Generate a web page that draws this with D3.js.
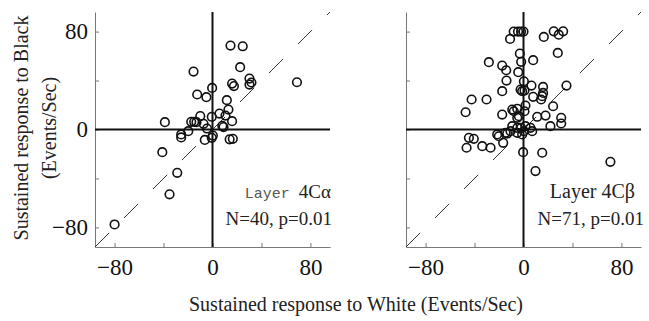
<!DOCTYPE html>
<html>
<head>
<meta charset="utf-8">
<script src="https://cdn.jsdelivr.net/npm/d3@7"></script>
<style>
  body { margin: 0; background: #fff; }
  svg text { font-family: "Liberation Serif", "Times New Roman", serif; }
</style>
</head>
<body>
<script>
// Layer 4C-alpha: sustained response to white (x) vs black (y), events/sec
var alphaWhite = [14.7, 24.7, 22.6, -15.5, -0.3, 16, 17.5, 30.2, 30.2, 31.8,
  69, -12.5, -5, 11.7, 13, 5.7, 10.6, -10, -17.4, -15,
  -13.1, -38.9, -7.3, -0.6, 16, 8, 9, -4.5, -25.6, -25.6,
  -19.8, -6.3, -0.6, 0.3, 14, 16.6, -41, -28.8, -35.1, -80];
var alphaBlack = [68.6, 68, 50.9, 47.3, 34, 37.5, 35.5, 41.6, 36.7, 38.4,
  38.6, 28.6, 26.4, 24, 16.3, 13, 11.4, 11, 6.3, 6.3,
  6, 6, 4.6, 10.4, 6.8, 3, 2, 0.8, -4, -6.5,
  -1.4, -8.5, -6.8, -5, -8, -7.6, -18.5, -35.4, -53, -77.6];

// Layer 4C-beta
var betaWhite = [-8, -4.5, -2, 0, -11, 16.6, 24.7, 28.8, 32.4, 28,
  7.9, -3, -1.9, -28.3, -17.4, -14.1, -4.3, -13.9, 0.3, -17.4,
  -2.4, -1.1, 0.8, 6.5, 16, 35.1, 16, 15.3, 14.4, 7.9,
  -42.4, -30.2, -47.3, -17.4, -9.2, -7.9, -5.1, 0.8, 1.6, 24.2,
  -5.1, -3.8, 11.2, 18, 30.8, 30.8, 22, -9.2, -5.1, 1.6,
  -1.9, 5.7, 7.1, 0.3, -1.1, -5.1, -10.6, -14.7, -21.5, -20.2,
  -13.3, -16.6, -26.9, -33.7, -44.6, -40.6, -46.5, -0.3, 15.3, 9.8, 71];
var betaBlack = [80, 80, 80, 80, 74, 75.6, 80.2, 77.5, 80.2, 62.6,
  56.6, 62, 55.3, 55, 52.2, 48.4, 46.8, 40, 39.4, 31.3,
  32.6, 31.3, 31.8, 35.9, 34.8, 35.9, 29.9, 27.2, 24.5, 26.7,
  24.5, 24.5, 14.1, 12.2, 16.3, 14.9, 16.9, 14.9, 19.6, 19,
  9.5, 10.9, 10.4, 11.4, 9.5, 4.9, 2.7, 2.7, 1.4, 2.7,
  1.4, 1.4, -1.4, -1.4, -4.1, -2.7, -1.4, -2.7, -4, -5.5,
  -3.3, -10.9, -14.9, -13.6, -6.8, -7.6, -14.9, -18.5, -19, -34, -26.4];

var axisDomain = [-96, 96];
var tickVals = [-80, -40, 0, 40, 80];
var labelVals = [-80, 0, 80];

var panels = [
  { name: "Layer", layer: "4C\u03b1", stats: "N=40, p=0.01", xs: alphaWhite, ys: alphaBlack, left: 95, yLabels: true, mono: true },
  { name: "Layer", layer: "4C\u03b2", stats: "N=71, p=0.01", xs: betaWhite, ys: betaBlack, left: 406, yLabels: false, mono: false }
];

var plotTop = 12, plotBottom = 247, side = 235;

var svg = d3.select("body").append("svg")
  .attr("width", 649)
  .attr("height", 321);

var fmt = d3.format("");

panels.forEach(function(p) {
  var x = d3.scaleLinear().domain(axisDomain).range([p.left, p.left + side]);
  var y = d3.scaleLinear().domain(axisDomain).range([plotBottom, plotTop]);
  var g = svg.append("g");

  var xAxis = g.append("g")
    .attr("transform", `translate(0,${plotBottom})`)
    .call(d3.axisBottom(x).tickValues(tickVals).tickSizeInner(-4).tickSizeOuter(0)
      .tickPadding(12)
      .tickFormat(d => labelVals.includes(d) ? fmt(d) : ""));
  var yAxis = g.append("g")
    .attr("transform", `translate(${p.left},0)`)
    .call(d3.axisLeft(y).tickValues(tickVals).tickSizeInner(-4).tickSizeOuter(0)
      .tickPadding(7)
      .tickFormat(d => p.yLabels && labelVals.includes(d) ? fmt(d) : ""));

  [xAxis, yAxis].forEach(function(a) {
    a.attr("font-family", null).attr("font-size", 23);
    a.select(".domain").attr("stroke", "#777").attr("stroke-width", 1);
    a.selectAll(".tick line").attr("stroke", "#777");
    a.selectAll(".tick text").attr("fill", "#111");
  });

  // identity line
  g.append("line")
    .attr("x1", x(axisDomain[0])).attr("y1", y(axisDomain[0]))
    .attr("x2", x(axisDomain[1])).attr("y2", y(axisDomain[1]))
    .attr("stroke", "#333")
    .attr("stroke-width", 1)
    .attr("stroke-dasharray", "20,21");

  // zero lines
  g.append("line")
    .attr("x1", x(0)).attr("x2", x(0))
    .attr("y1", y(axisDomain[1])).attr("y2", y(axisDomain[0]))
    .attr("stroke", "#111").attr("stroke-width", 2);
  g.append("line")
    .attr("x1", x(axisDomain[0])).attr("x2", x(axisDomain[1]))
    .attr("y1", y(0)).attr("y2", y(0))
    .attr("stroke", "#111").attr("stroke-width", 2);

  g.selectAll("circle").data(p.xs)
    .enter().append("circle")
    .attr("cx", d => x(d))
    .attr("cy", (d, i) => y(p.ys[i]))
    .attr("r", 4.3)
    .attr("fill", "none")
    .attr("stroke", "#111")
    .attr("stroke-width", 1.6);

  var lt = g.append("text")
    .attr("x", p.left + side + (p.mono ? 1 : -6))
    .attr("y", 198)
    .attr("text-anchor", "end")
    .attr("font-size", p.mono ? 19 : 20)
    .attr("fill", "#222");
  lt.append("tspan")
    .attr("font-family", p.mono ? "Liberation Mono, monospace" : null)
    .attr("font-size", p.mono ? 15 : 20)
    .attr("fill", p.mono ? "#555" : "#222")
    .text(p.name + (p.mono ? "\u00a0" : " "));
  lt.append("tspan").text(p.layer);

  g.append("text")
    .attr("x", p.left + side + (p.mono ? 2 : 3))
    .attr("y", 225)
    .attr("text-anchor", "end")
    .attr("font-size", 19)
    .attr("fill", "#222")
    .text(p.stats);
});

svg.append("text")
  .attr("x", 356)
  .attr("y", 311)
  .attr("text-anchor", "middle")
  .attr("font-size", 20)
  .attr("fill", "#222")
  .text("Sustained response to White (Events/Sec)");

svg.append("text")
  .attr("transform", "translate(28,128) rotate(-90)")
  .attr("text-anchor", "middle")
  .attr("font-size", 20)
  .attr("fill", "#222")
  .text("Sustained response to Black");
svg.append("text")
  .attr("transform", "translate(56,128) rotate(-90)")
  .attr("text-anchor", "middle")
  .attr("font-size", 20)
  .attr("fill", "#222")
  .text("(Events/Sec)");
</script>
</body>
</html>
